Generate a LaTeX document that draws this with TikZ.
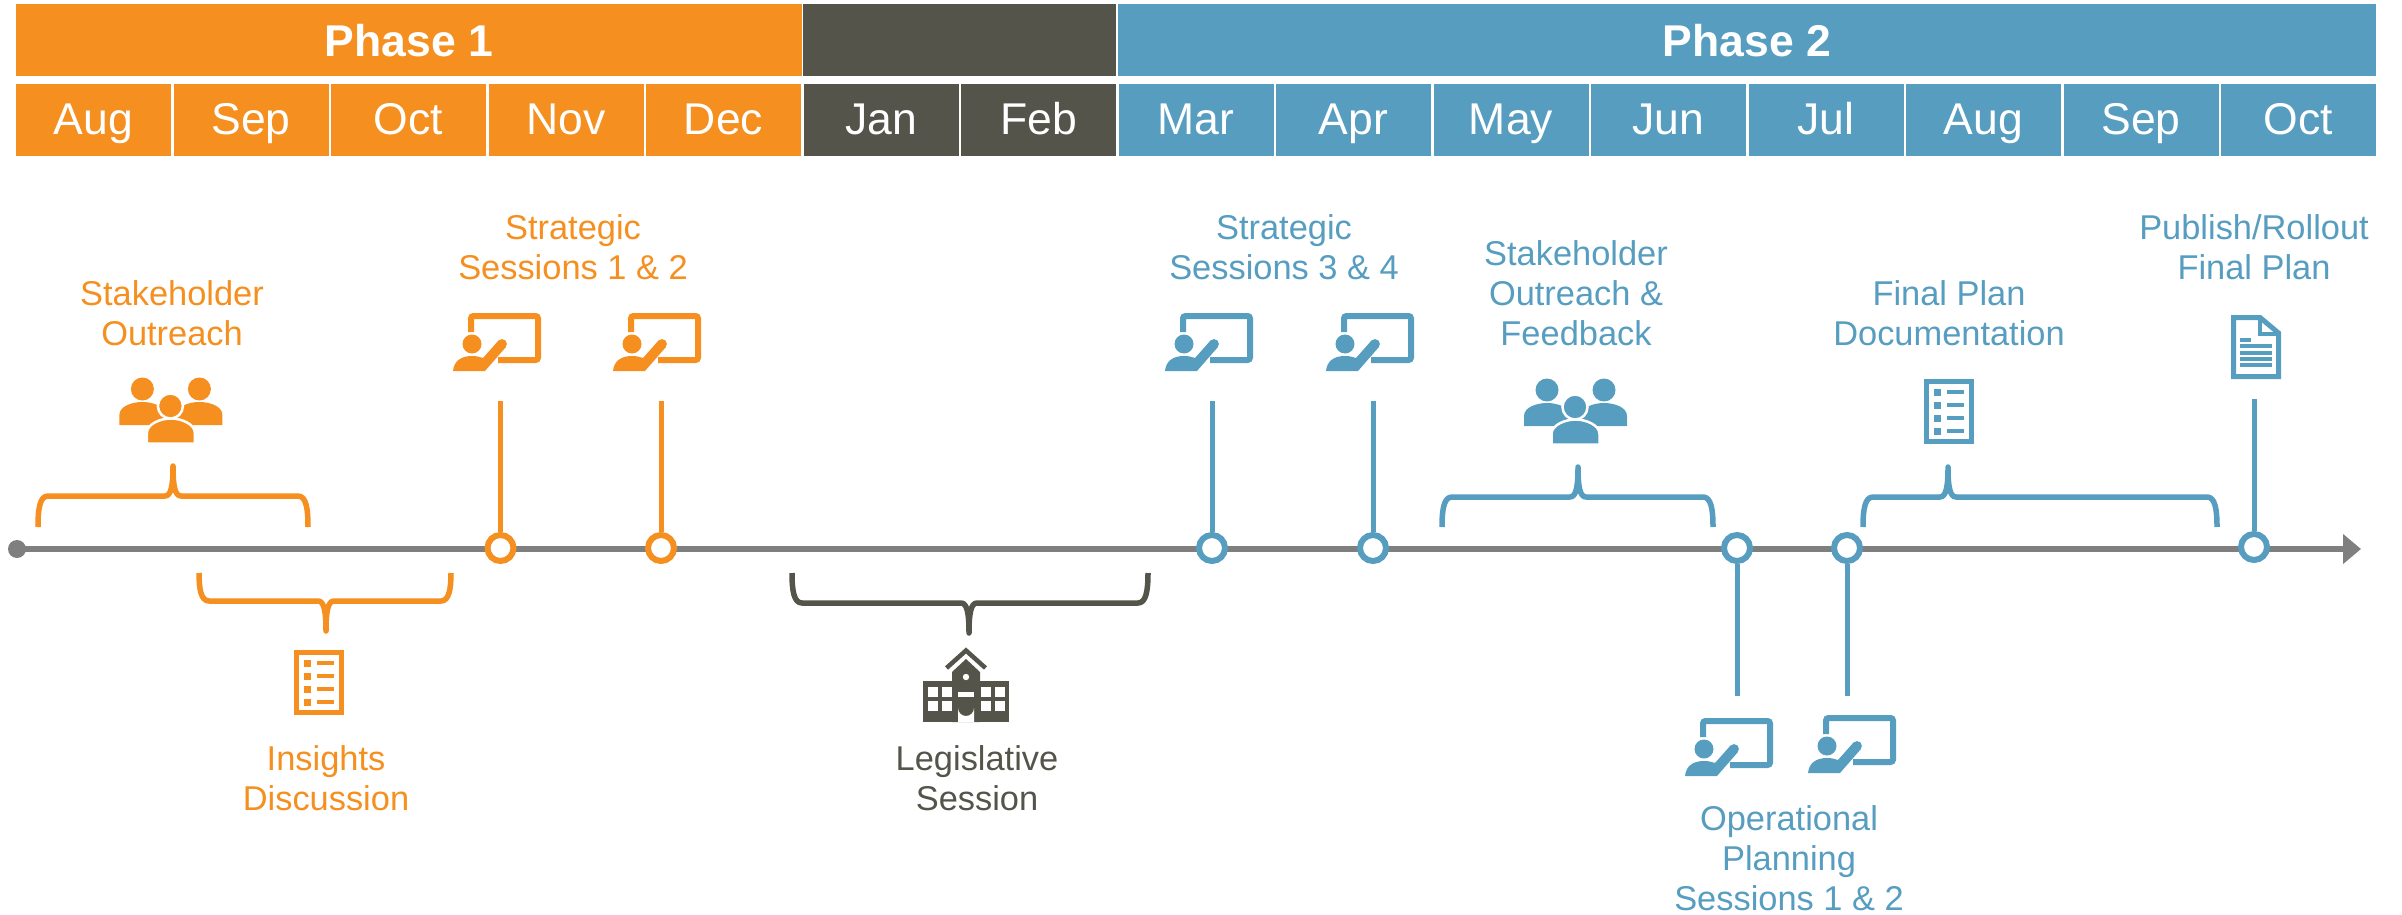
\documentclass[tikz,border=0pt]{standalone}
\usepackage{fontspec}
\setmainfont{Liberation Sans}
\usetikzlibrary{arrows.meta}
\definecolor{org}{HTML}{F58F1F}
\definecolor{blu}{HTML}{569DC0}
\definecolor{drk}{HTML}{54544A}
\definecolor{gry}{HTML}{7F7F7F}
\tikzset{
  phasebar/.style={fill=#1,draw=none,minimum height=72pt,inner sep=0pt,text=white,font=\fontsize{44.5}{50}\selectfont\bfseries},
  monthcell/.style={fill=#1,draw=none,minimum width=155pt,minimum height=72pt,inner sep=0pt,text=white,text height=34pt,text depth=4pt,font=\fontsize{44.5}{50}\selectfont},
  lbl/.style={text=#1,align=center,inner sep=0pt,font=\fontsize{34.4}{40}\selectfont},
  stem/.style={draw=#1,line width=5pt},
  ring/.style={circle,draw=#1,line width=6pt,fill=white,minimum size=26pt,inner sep=0pt},
  brc/.style={draw=#1,line width=5.5pt,line join=round}
}
% body-left, board-top, colour
\newcommand{\presenter}[3]{%
\begin{scope}[shift={(#1,#2)}]
\draw[#3,line width=6pt,rounded corners=2.5pt] (18,19) -- (18,3) -- (85,3) -- (85,47) -- (45,47);
\fill[#3] (19,31) circle (9.5);
\fill[#3] (0,58) .. controls (1,48) and (8,43) .. (19,43) .. controls (24,43) and (27,44) .. (30,45) -- (45.5,27.5) -- (52.5,34.5) -- (32,58) -- cycle;
\fill[#3] (49,31) circle (4.9);
\end{scope}}
% centre head, colour
\newcommand{\people}[3]{%
\begin{scope}[shift={(#1,#2)}]
\fill[#3] (-28,-17) circle (11.5);
\fill[#3] (29,-17) circle (11.5);
\fill[#3] (-51,19) -- (-51,9) .. controls (-51,0) and (-38,-4) .. (-28,-4) .. controls (-18,-4) and (-5,0) .. (-5,9) -- (-5,19) -- cycle;
\fill[#3] (52,19) -- (52,9) .. controls (52,0) and (39,-4) .. (29,-4) .. controls (19,-4) and (6,0) .. (6,9) -- (6,19) -- cycle;
\filldraw[#3,draw=white,line width=2.5pt] (0,0) circle (12.5);
\filldraw[#3,draw=white,line width=2.5pt] (-23.5,37.5) -- (-23.5,27) .. controls (-23.5,18) and (-10,12.5) .. (0.5,12.5) .. controls (11,12.5) and (24.5,18) .. (24.5,27) -- (24.5,37.5) -- cycle;
\end{scope}}
% top-left of list icon, colour
\newcommand{\listicon}[3]{%
\begin{scope}[shift={(#1,#2)}]
\draw[#3,line width=5pt] (2.5,2.5) rectangle (47.5,62.5);
\foreach \yy in {10,23,36,49}{
  \fill[#3] (10,\yy) rectangle (16.5,\yy+6.5);
  \draw[#3,line width=3.5pt] (23,\yy+3.2) -- (40,\yy+3.2);
}
\end{scope}}
% x1 xm x2 yend yh sign colour
\newcommand{\bracefull}[7]{%
\draw[brc=#7] (#1,#4) .. controls (#1,#5+#6*12) and (#1+2,#5) .. (#1+10,#5) -- (#2-8,#5)
 .. controls (#2-2,#5) and (#2,#5-#6*10) .. (#2,#5-#6*30)
 .. controls (#2,#5-#6*10) and (#2+2,#5) .. (#2+8,#5) -- (#3-10,#5)
 .. controls (#3-2,#5) and (#3,#5+#6*12) .. (#3,#4);}
\begin{document}
\begin{tikzpicture}[x=1pt,y=-1pt]
\useasboundingbox (0,0) rectangle (2402,915);
% phase bars
\node[phasebar=org,minimum width=786pt] (ph1) at (409,40.5) {Phase 1};
\node[phasebar=drk,minimum width=313pt] (ph0) at (959.5,40.5) {};
\node[phasebar=blu,minimum width=1258pt] (ph2) at (1747,40.5) {Phase 2};
% months
\foreach \m [count=\i from 0] in {Aug,Sep,Oct,Nov,Dec}
  \node[monthcell=org] (m\i) at ({93.5+157.5*\i},120) {\m};
\foreach \m [count=\i from 5] in {Jan,Feb}
  \node[monthcell=drk] (m\i) at ({93.5+157.5*\i},120) {\m};
\foreach \m [count=\i from 7] in {Mar,Apr,May,Jun,Jul,Aug,Sep,Oct}
  \node[monthcell=blu] (m\i) at ({93.5+157.5*\i},120) {\m};
% labels
\node[lbl=org] (t1) at (172,313) {Stakeholder\\Outreach};
\node[lbl=org] (t2) at (573,247) {Strategic\\Sessions 1 \& 2};
\node[lbl=org] (t3) at (326,778) {Insights\\Discussion};
\node[lbl=drk] (t4) at (977,778) {Legislative\\Session};
\node[lbl=blu] (t5) at (1284,247) {Strategic\\Sessions 3 \& 4};
\node[lbl=blu] (t6) at (1576,293) {Stakeholder\\Outreach \&\\Feedback};
\node[lbl=blu] (t7) at (1949,313) {Final Plan\\Documentation};
\node[lbl=blu] (t8) at (2254,247) {Publish/Rollout\\Final Plan};
\node[lbl=blu] (t9) at (1789,858) {Operational\\Planning\\Sessions 1 \& 2};
% timeline
\node[circle,fill=gry,minimum size=18pt,inner sep=0pt] (tstart) at (17,549) {};
\coordinate (tend) at (2361,549);
\draw[gry,line width=6.5pt,-{Triangle[length=18pt,width=29pt]}] (tstart.center) -- (tend);
% stems and rings
\coordinate (s1) at (500.5,401); \coordinate (s2) at (661,401);
\coordinate (s3) at (1212,401); \coordinate (s4) at (1373,401);
\coordinate (s5) at (1737,696); \coordinate (s6) at (1847,696);
\coordinate (s7) at (2254,399);
\node[ring=org] (c1) at (500.5,548) {};
\node[ring=org] (c2) at (661,548) {};
\node[ring=blu] (c3) at (1212,548) {};
\node[ring=blu] (c4) at (1373,548) {};
\node[ring=blu] (c5) at (1737,548) {};
\node[ring=blu] (c6) at (1847,548) {};
\node[ring=blu] (c7) at (2254,547) {};
\draw[stem=org] (s1) -- (c1);
\draw[stem=org] (s2) -- (c2);
\draw[stem=blu] (s3) -- (c3);
\draw[stem=blu] (s4) -- (c4);
\draw[stem=blu] (s5) -- (c5);
\draw[stem=blu] (s6) -- (c6);
\draw[stem=blu] (s7) -- (c7);
% braces
\bracefull{38}{173}{308}{527}{496}{1}{org}
\bracefull{199}{326}{451}{573}{601}{-1}{org}
\bracefull{792}{969}{1148}{573}{603}{-1}{drk}
\bracefull{1442}{1578}{1713}{527}{497}{1}{blu}
\bracefull{1863}{1948}{2217}{527}{497}{1}{blu}
% icons
\presenter{453}{313}{org}
\presenter{613}{313}{org}
\presenter{1165}{313}{blu}
\presenter{1326}{313}{blu}
\presenter{1685}{718}{blu}
\presenter{1808}{715}{blu}
\people{170.4}{406}{org}
\people{1575}{407}{blu}
\listicon{294}{650}{org}
\listicon{1924}{379}{blu}
% document icon
\draw[blu,line width=5pt,line join=miter] (2233.5,317.5) -- (2260,317.5) -- (2278.5,333) -- (2278.5,376.5) -- (2233.5,376.5) -- cycle;
\draw[blu,line width=4.5pt] (2260,317) -- (2260,334) -- (2279,334);
\draw[blu,line width=3.8pt] (2240,340) -- (2251,340);
\foreach \yy in {346,352.6,359,365}
  \draw[blu,line width=3.8pt] (2240,\yy) -- (2272,\yy);
% building
\fill[drk] (923,681) rectangle (1009,722);
\fill[drk] (952,722) -- (952,672) -- (966,659) -- (980,672) -- (980,722) -- cycle;
\draw[drk,line width=4.5pt] (946.5,668) -- (966,650.5) -- (985.5,668);
\fill[white] (966,677) circle (3.2);
\fill[white] (958,692) rectangle (974,697);
\fill[white] (958,722) -- (958,708) arc[start angle=180,end angle=0,radius=8] -- (974,722) -- cycle;
\foreach \xx/\ww in {928/10,942/10,981/10,995/10}
  \foreach \yy in {687,701}
    \fill[white] (\xx,\yy) rectangle +(\ww,9.5);
\end{tikzpicture}
\end{document}
